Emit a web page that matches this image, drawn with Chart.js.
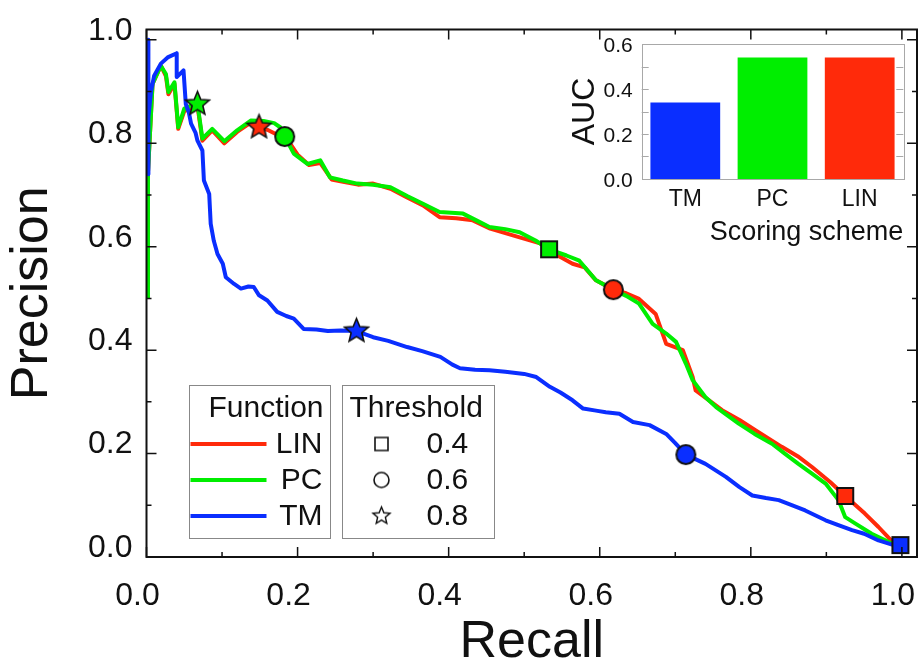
<!DOCTYPE html>
<html><head><meta charset="utf-8">
<script src="https://cdn.jsdelivr.net/npm/chart.js@4.4.1/dist/chart.umd.min.js"></script>
<style>
html,body{margin:0;padding:0;background:#fff;}
#wrap{position:relative;width:920px;height:669px;overflow:hidden;}
#main{position:absolute;left:0;top:0;}
#inset{position:absolute;left:540px;top:30px;}
</style></head><body>
<div id="wrap"><canvas id="main" width="920" height="669"></canvas><canvas id="inset" width="375" height="225"></canvas></div>
<script>
// ---------- data ----------
const tmRecall    = [0.002,0.002,0.003,0.006,0.010,0.019,0.028,0.040,0.040,0.049,0.052,0.056,0.059,0.065,0.0675,0.074,0.076,0.083,0.085,0.089,0.094,0.101,0.105,0.116,0.125,0.135,0.142,0.149,0.160,0.173,0.185,0.195,0.208,0.225,0.240,0.257,0.278,0.300,0.320,0.345,0.365,0.389,0.405,0.415,0.435,0.454,0.475,0.500,0.516,0.534,0.548,0.564,0.578,0.595,0.608,0.626,0.644,0.666,0.688,0.700,0.714,0.740,0.767,0.785,0.802,0.820,0.837,0.855,0.872,0.899,0.915,0.934,0.950,0.969,0.987,1.000];
const tmPrecision = [1.000,0.740,0.850,0.900,0.930,0.954,0.966,0.974,0.928,0.941,0.876,0.860,0.838,0.820,0.805,0.786,0.728,0.702,0.644,0.612,0.586,0.567,0.541,0.528,0.519,0.523,0.522,0.506,0.496,0.474,0.466,0.461,0.441,0.440,0.437,0.438,0.437,0.425,0.418,0.406,0.398,0.387,0.372,0.365,0.362,0.361,0.358,0.354,0.348,0.329,0.318,0.303,0.287,0.283,0.280,0.277,0.261,0.255,0.238,0.220,0.198,0.180,0.155,0.135,0.119,0.114,0.110,0.100,0.090,0.071,0.062,0.052,0.045,0.032,0.024,0.020];

const pcRecall    = [0.002,0.002,0.008,0.019,0.0257,0.029,0.037,0.042,0.050,0.058,0.0675,0.074,0.087,0.103,0.120,0.138,0.155,0.169,0.177,0.183,0.195,0.213,0.230,0.243,0.260,0.279,0.300,0.323,0.345,0.366,0.388,0.419,0.438,0.454,0.475,0.494,0.515,0.533,0.556,0.573,0.595,0.618,0.635,0.652,0.670,0.688,0.701,0.714,0.723,0.740,0.754,0.784,0.805,0.828,0.845,0.863,0.880,0.899,0.916,0.925,0.938,0.960,0.987,1.000];
const pcPrecision = [0.500,0.745,0.915,0.950,0.934,0.899,0.918,0.831,0.867,0.872,0.876,0.809,0.828,0.804,0.825,0.844,0.843,0.839,0.831,0.813,0.780,0.760,0.767,0.734,0.728,0.722,0.720,0.715,0.698,0.683,0.667,0.664,0.650,0.638,0.634,0.628,0.612,0.595,0.583,0.573,0.535,0.517,0.505,0.490,0.451,0.432,0.416,0.374,0.342,0.309,0.290,0.258,0.238,0.219,0.200,0.180,0.162,0.142,0.110,0.077,0.065,0.045,0.026,0.020];

const linRecall    = [0.002,0.002,0.008,0.019,0.0257,0.029,0.037,0.042,0.050,0.058,0.0675,0.074,0.087,0.103,0.120,0.138,0.149,0.160,0.175,0.190,0.200,0.215,0.230,0.245,0.262,0.280,0.300,0.323,0.345,0.366,0.388,0.410,0.432,0.455,0.494,0.520,0.533,0.548,0.564,0.580,0.595,0.618,0.635,0.652,0.674,0.688,0.710,0.723,0.727,0.762,0.785,0.806,0.841,0.862,0.881,0.905,0.925,0.951,0.969,0.987,1.000];
const linPrecision = [0.500,0.745,0.915,0.950,0.930,0.895,0.915,0.828,0.862,0.868,0.872,0.805,0.825,0.800,0.822,0.840,0.831,0.826,0.815,0.800,0.778,0.758,0.762,0.730,0.725,0.720,0.722,0.712,0.695,0.680,0.657,0.655,0.651,0.635,0.618,0.607,0.597,0.580,0.567,0.560,0.535,0.517,0.510,0.499,0.470,0.412,0.400,0.348,0.322,0.284,0.265,0.245,0.213,0.195,0.174,0.145,0.118,0.084,0.058,0.030,0.020];

// threshold markers (order: 0.4, 0.6, 0.8)
const thresholds = ['0.4','0.6','0.8'];
const linMarkRecall = [0.925,0.618,0.149], linMarkPrecision = [0.118,0.517,0.831];
const pcMarkRecall  = [0.533,0.183,0.0675], pcMarkPrecision = [0.595,0.813,0.876];
const tmMarkRecall  = [0.998,0.714,0.278], tmMarkPrecision = [0.023,0.198,0.437];

const functionNames = ['LIN','PC','TM'];
const aucSchemes = ['TM','PC','LIN'];
const aucValues  = [0.34,0.54,0.54];

const xTickValues = [0,0.2,0.4,0.6,0.8,1.0];
const yTickValues = [0,0.2,0.4,0.6,0.8,1.0];
const aucTickValues = [0,0.2,0.4,0.6];

// ---------- styles ----------
const FONT = '"Liberation Sans", Arial, sans-serif';
const INK = '#111';
const RED = '#ff2a0a', GREEN = '#00ee00', BLUE = '#0a2eff';

function markerCanvas(shape, fill, size, lw){
  const s = Math.ceil(size + lw*2 + 2);
  const c = document.createElement('canvas'); c.width = s; c.height = s;
  const g = c.getContext('2d'); const m = s/2;
  g.lineWidth = lw; g.strokeStyle = INK; g.fillStyle = fill; g.lineJoin='miter';
  g.beginPath();
  if (shape === 'square') g.rect(m-size/2, m-size/2, size, size);
  else if (shape === 'circle') g.arc(m, m, size/2, 0, Math.PI*2);
  else { const R=size/2, r=R*0.45; for(let i=0;i<10;i++){const a=-Math.PI/2+i*Math.PI/5; const rr=i%2?r:R; g.lineTo(m+rr*Math.cos(a), m+rr*Math.sin(a));} g.closePath(); }
  g.fill(); g.stroke();
  return c;
}
function markerSet(fill){ return [markerCanvas('square',fill,16,2), markerCanvas('circle',fill,19,2), markerCanvas('star',fill,25,1.6)]; }
const legendSymbols = [markerCanvas('square','#fff',13,1.6), markerCanvas('circle','#fff',15,1.6), markerCanvas('star','#fff',18,1.4)];

const pts = (xs, ys) => xs.map((x,i)=>({x:x, y:ys[i]}));

function lineDs(label, xs, ys, color, order){
  return {label, data: pts(xs,ys), showLine:true, borderColor:color, backgroundColor:color, borderWidth:4, pointRadius:0, tension:0, order, borderJoinStyle:'round'};
}
function markDs(label, xs, ys, color){
  return {label, data: pts(xs,ys), showLine:false, pointStyle: markerSet(color), pointRadius:10, order:0};
}
function noPad(s){ s.paddingLeft = 0; s.paddingRight = 0; s.paddingTop = 0; s.paddingBottom = 0; }

// ---------- plugins ----------
const tickMarks = [0,0.1,0.2,0.3,0.4,0.5,0.6,0.7,0.8,0.9,1.0];
const mainFrame = {
  id:'mainFrame',
  afterDraw(chart){
    const {ctx, chartArea:a, scales:{x,y}} = chart;
    ctx.save();
    ctx.strokeStyle = INK; ctx.lineWidth = 1.5;
    tickMarks.forEach((v,i)=>{
      const L = (i%2===0) ? 10 : 5;
      const px = x.getPixelForValue(v), py = y.getPixelForValue(v);
      ctx.beginPath();
      ctx.moveTo(px,a.bottom); ctx.lineTo(px,a.bottom-L);
      ctx.moveTo(px,a.top); ctx.lineTo(px,a.top+L);
      ctx.moveTo(a.left,py); ctx.lineTo(a.left+L,py);
      ctx.moveTo(a.right,py); ctx.lineTo(a.right-L,py);
      ctx.stroke();
    });
    ctx.lineWidth = 2;
    ctx.strokeRect(a.left, a.top, a.right-a.left, a.bottom-a.top);

    // legends
    const ox = a.left, oy = a.bottom;
    ctx.lineWidth = 1; ctx.strokeStyle = '#888';
    ctx.strokeRect(Math.round(ox+42)+0.5, Math.round(oy-172)+0.5, 141, 153);
    ctx.strokeRect(Math.round(ox+195)+0.5, Math.round(oy-172)+0.5, 152, 153);
    ctx.fillStyle = INK; ctx.font = '30px ' + FONT; ctx.textBaseline = 'middle';
    ctx.textAlign = 'right';
    ctx.fillText('Function', ox+177, oy-148);
    const rowY = [oy-113, oy-77, oy-41];
    const cols = [RED, GREEN, BLUE];
    functionNames.forEach((n,i)=>{
      ctx.strokeStyle = cols[i]; ctx.lineWidth = 4;
      ctx.beginPath(); ctx.moveTo(ox+44, rowY[i]); ctx.lineTo(ox+120, rowY[i]); ctx.stroke();
      ctx.fillText(n, ox+176, rowY[i]+1);
    });
    ctx.textAlign = 'left';
    ctx.fillText('Threshold', ox+203, oy-148);
    thresholds.forEach((t,i)=>{
      const s = legendSymbols[i];
      ctx.drawImage(s, ox+235 - s.width/2, rowY[i] - s.height/2);
      ctx.fillText(t, ox+280, rowY[i]+1);
    });
    ctx.restore();
  }
};

const insetFrame = {
  id:'insetFrame',
  afterDraw(chart){
    const {ctx, chartArea:a, scales:{y}} = chart;
    ctx.save();
    ctx.strokeStyle = '#a8a8a8'; ctx.lineWidth = 1;
    ctx.strokeRect(Math.round(a.left)+0.5, Math.round(a.top)+0.5, Math.round(a.right-a.left), Math.round(a.bottom-a.top));
    [0.1,0.2,0.3,0.4,0.5].forEach(v=>{
      const py = Math.round(y.getPixelForValue(v))+0.5;
      ctx.beginPath();
      ctx.moveTo(a.left, py); ctx.lineTo(a.left+7, py);
      ctx.moveTo(a.right, py); ctx.lineTo(a.right-7, py);
      ctx.stroke();
    });
    ctx.restore();
  }
};

// ---------- main chart ----------
new Chart(document.getElementById('main'), {
  type:'scatter',
  data:{ datasets:[
    markDs('TM markers', tmMarkRecall, tmMarkPrecision, BLUE),
    markDs('PC markers', pcMarkRecall, pcMarkPrecision, GREEN),
    markDs('LIN markers', linMarkRecall, linMarkPrecision, RED),
    lineDs('TM', tmRecall, tmPrecision, BLUE, 1),
    lineDs('PC', pcRecall, pcPrecision, GREEN, 2),
    lineDs('LIN', linRecall, linPrecision, RED, 3)
  ]},
  options:{
    responsive:false, animation:false, devicePixelRatio:1,
    layout:{autoPadding:false, padding:{top:29.5,right:3,left:0,bottom:0}},
    plugins:{legend:{display:false}, tooltip:{enabled:false}},
    scales:{
      x:{type:'linear', min:0, max:1.02,
        afterBuildTicks:s=>{ s.ticks = xTickValues.map(v=>({value:v})); },
        afterFit:s=>{ s.height = 112; noPad(s); },
        grid:{display:false, drawTicks:false}, border:{display:false},
        ticks:{padding:20, labelOffset:-9, autoSkip:false, maxRotation:0, color:INK, font:{family:FONT,size:32}, callback:v=>Number(v).toFixed(1)},
        title:{display:true, text:'Recall', color:INK, font:{family:FONT,size:52,lineHeight:1}, padding:{top:0,bottom:0}}
      },
      y:{type:'linear', min:0, max:1.02,
        afterBuildTicks:s=>{ s.ticks = yTickValues.map(v=>({value:v})); },
        afterFit:s=>{ s.width = 146.5; noPad(s); },
        grid:{display:false, drawTicks:false}, border:{display:false},
        ticks:{padding:14, labelOffset:-9, autoSkip:false, color:INK, font:{family:FONT,size:32}, callback:v=>Number(v).toFixed(1)},
        title:{display:true, text:'Precision', color:INK, font:{family:FONT,size:52,lineHeight:1}, padding:{top:7,bottom:0}}
      }
    }
  },
  plugins:[mainFrame]
});

// ---------- inset chart ----------
new Chart(document.getElementById('inset'), {
  type:'bar',
  data:{ labels: aucSchemes, datasets:[{ data: aucValues, backgroundColor:[BLUE, GREEN, RED], borderWidth:0, barPercentage:0.8, categoryPercentage:1.0 }]},
  options:{
    responsive:false, animation:false, devicePixelRatio:1,
    layout:{autoPadding:false, padding:{top:14,right:11.7,left:0,bottom:0}},
    plugins:{legend:{display:false}, tooltip:{enabled:false}},
    scales:{
      x:{ afterFit:s=>{ s.height = 76; noPad(s); },
        grid:{display:false, drawTicks:false}, border:{display:false},
        ticks:{padding:7, color:INK, font:{family:FONT,size:23}},
        title:{display:true, text:'Scoring scheme', align:'end', color:INK, font:{family:FONT,size:27,lineHeight:1}, padding:{top:0,bottom:9}}
      },
      y:{ min:0, max:0.6,
        afterBuildTicks:s=>{ s.ticks = aucTickValues.map(v=>({value:v})); },
        afterFit:s=>{ s.width = 101.7; noPad(s); },
        grid:{display:false, drawTicks:false}, border:{display:false},
        ticks:{padding:9, labelOffset:2, color:INK, font:{family:FONT,size:21}, callback:v=>Number(v).toFixed(1)},
        title:{display:true, text:'AUC', color:INK, font:{family:FONT,size:32,lineHeight:1}, padding:{top:29,bottom:0}}
      }
    }
  },
  plugins:[insetFrame]
});
</script>
</body></html>
